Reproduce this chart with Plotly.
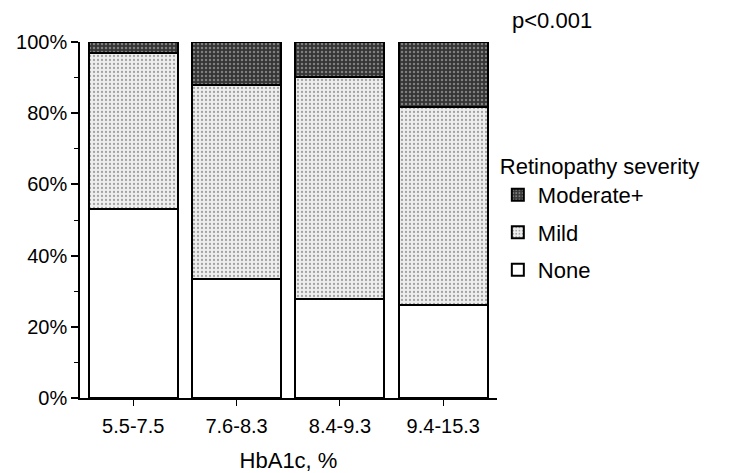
import plotly.graph_objects as go

categories = ["5.5-7.5", "7.6-8.3", "8.4-9.3", "9.4-15.3"]
none_pct = [53.0, 33.3, 27.8, 26.1]
mild_pct = [44.0, 54.6, 62.3, 55.7]
moderate_pct = [3.0, 12.1, 9.9, 18.2]
y_ticks = [0, 20, 40, 60, 80, 100]
y_tick_text = ["0%", "20%", "40%", "60%", "80%", "100%"]

FONT = "Liberation Sans, Arial, Helvetica, sans-serif"

fig = go.Figure()
fig.add_trace(go.Bar(
    x=categories, y=none_pct, name="None", legendgroup="none", legendrank=3,
    marker=dict(color="white", line=dict(color="black", width=2)),
))
fig.add_trace(go.Bar(
    x=categories, y=mild_pct, name="Mild", legendgroup="mild", legendrank=2,
    marker=dict(color="#eeeeee", line=dict(color="black", width=2),
                pattern=dict(shape=".", fgcolor="#555555", bgcolor="#eeeeee",
                             size=4, solidity=0.25)),
))
fig.add_trace(go.Bar(
    x=categories, y=moderate_pct, name="Moderate+", legendgroup="mod", legendrank=1,
    marker=dict(color="#353535", line=dict(color="black", width=2),
                pattern=dict(shape=".", fgcolor="#c8c8c8", bgcolor="#353535",
                             size=4, solidity=0.3)),
))

fig.update_layout(
    width=728, height=465,
    barmode="stack", bargap=0.14,
    paper_bgcolor="white", plot_bgcolor="white",
    margin=dict(l=72, r=239, t=34, b=75),
    font=dict(family=FONT, size=20, color="black"),
    showlegend=True,
    legend=dict(
        title=dict(text="Retinopathy severity", font=dict(size=22)),
        font=dict(size=22),
        traceorder="grouped", tracegroupgap=6,
        x=1.002, xanchor="left", y=0.71, yanchor="top",
        bgcolor="rgba(0,0,0,0)",
    ),
    xaxis=dict(
        range=[-0.515, 3.52], showline=True, linecolor="black", linewidth=1.5,
        ticks="outside", ticklen=6, tickcolor="black", tickwidth=1,
        tickfont=dict(size=20), ticklabelstandoff=3, automargin=False,
        title=dict(text="HbA1c, %", font=dict(size=22), standoff=20),
        showgrid=False, zeroline=False, fixedrange=True,
    ),
    yaxis=dict(
        range=[0, 100], tickmode="array", tickvals=y_ticks, ticktext=y_tick_text,
        tickfont=dict(size=20), automargin=False,
        showline=True, linecolor="black", linewidth=1.5,
        ticks="outside", ticklen=7, tickcolor="black", tickwidth=1.5,
        minor=dict(dtick=10, ticks="outside", ticklen=4, tickcolor="black", tickwidth=1),
        showgrid=False, zeroline=False, fixedrange=True,
    ),
    annotations=[dict(
        text="p<0.001", xref="paper", yref="paper",
        x=1.031, y=1.059, xanchor="left", yanchor="middle",
        showarrow=False, font=dict(size=22),
    )],
)

fig.write_html("out.html")
